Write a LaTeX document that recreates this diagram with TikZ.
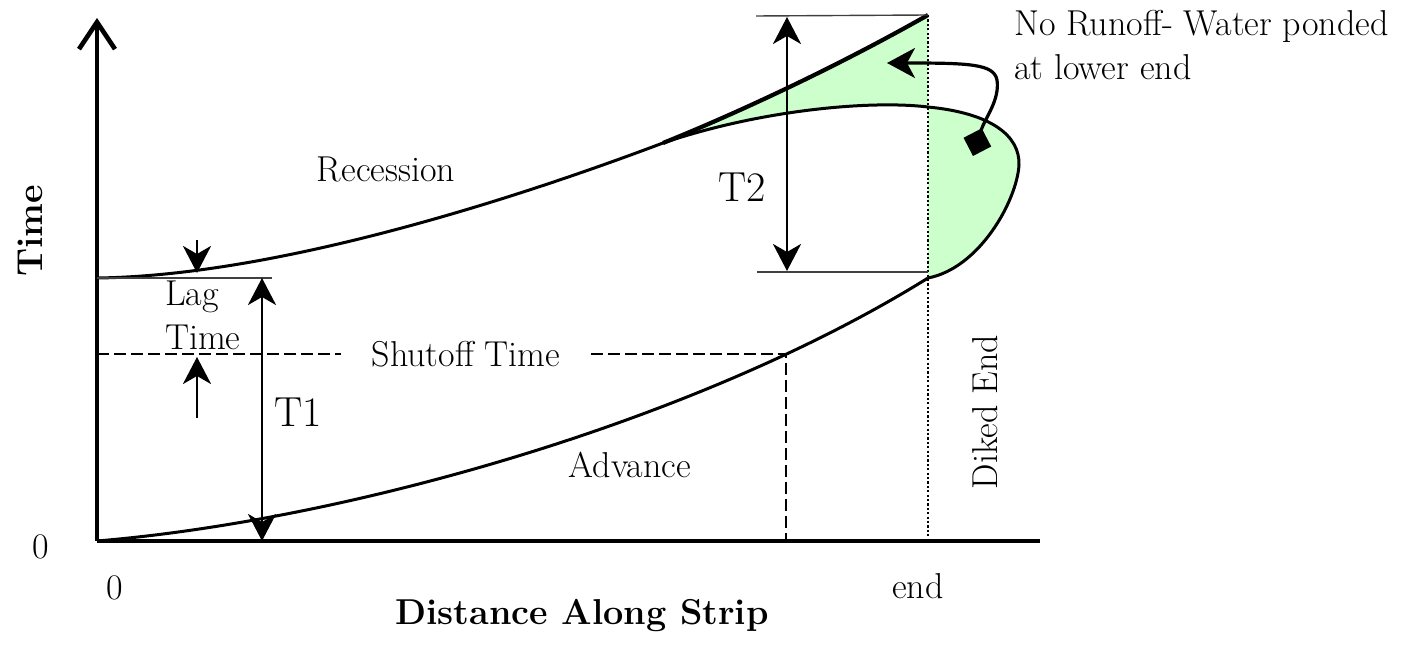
\documentclass[tikz,border=0pt]{standalone}
\usetikzlibrary{arrows.meta}
\definecolor{pondgreen}{RGB}{204,255,204}
\begin{document}
\begin{tikzpicture}[x=0.5pt, y=-0.5pt, >={Stealth[length=13.5pt,width=14pt,inset=4pt]},
    every node/.style={font=\fontsize{18}{22}\selectfont},
    axisline/.style={line width=2.3pt},
    flowline/.style={line width=1.5pt},
    guide/.style={line width=0.7pt, black!75},
    dashline/.style={line width=0.9pt, dash pattern=on 6pt off 2.5pt},
    dotline/.style={line width=1.1pt, dash pattern=on 1.1pt off 1.1pt},
    dimarrow/.style={line width=1.4pt, <->},
    biglabel/.style={font=\fontsize{21}{24}\selectfont},
    axislabel/.style={font=\fontsize{18}{22}\selectfont\bfseries}]
  \useasboundingbox (0,0) rectangle (1410,646);

  % 1. key points
  \coordinate (O) at (97,541);
  \coordinate (ytop) at (97,18);
  \coordinate (xend) at (1040,541);
  \coordinate (recStart) at (97,278);
  \coordinate (split) at (663,143);
  \coordinate (pondTop) at (928,15);
  \coordinate (pondMid) at (928,107);
  \coordinate (advEnd) at (928,278);
  \coordinate (shut) at (786,354);

  % 2. ponded water (green)
  \fill[pondgreen] (split) .. controls (740,112) and (840,65) .. (pondTop) -- (pondMid)
    .. controls (870,100) and (760,110) .. (split) -- cycle;
  \fill[pondgreen] (pondMid) .. controls (990,113) and (1020,135) .. (1019,165)
    .. controls (1017,200) and (980,268) .. (advEnd) -- cycle;

  % 3. axes
  \draw[axisline, -{Straight Barb[length=13.5pt,width=18pt]}] (O) -- (ytop);
  \draw[axisline] (O) -- (xend);

  % 4. advance and recession curves
  \draw[flowline] (O) .. controls (350,520) and (700,420) .. (advEnd);
  \draw[flowline] (recStart) .. controls (260,276) and (480,212) .. (split)
    .. controls (760,110) and (870,100) .. (pondMid)
    .. controls (990,113) and (1020,135) .. (1019,165)
    .. controls (1017,200) and (980,268) .. (advEnd);
  \draw[line width=2.1pt] (split) .. controls (740,112) and (840,65) .. (pondTop);

  % 5. diked end
  \draw[dotline] (pondTop) -- (pondTop |- O);
  \node[rotate=90] (diked) at (985,412) {Diked End};

  % 6. shutoff time
  \node[inner xsep=15pt] (shutlbl) at (466,354) {Shutoff Time};
  \draw[dashline] (O |- shut) -- (shutlbl.west);
  \draw[dashline] (shutlbl.east) -- (shut) -- (shut |- O);

  % 7. lag time
  \coordinate (lagR) at (272,278);
  \coordinate (lagTop) at (197,240);
  \coordinate (lagHit) at (197,273);
  \coordinate (lagLow) at (197,418);
  \coordinate (lagUp) at (197,357);
  \draw[guide] (recStart) -- (lagR);
  \draw[->, line width=1.4pt] (lagTop) -- (lagHit);
  \draw[->, line width=1.4pt] (lagLow) -- (lagUp);
  \node[align=left, anchor=west] (lag) at (158,315) {Lag\\Time};

  % 8. T1 and T2
  \coordinate (t1top) at (262,278);
  \coordinate (t1bot) at (262,541);
  \draw[dimarrow] (t1top) -- (t1bot);
  \node[biglabel] (T1) at (298,412) {T1};
  \coordinate (t2lineA) at (756,16);
  \coordinate (t2lineB) at (757,272);
  \coordinate (t2lineC) at (928,272);
  \draw[guide] (t2lineA) -- (pondTop);
  \draw[guide] (t2lineB) -- (t2lineC);
  \coordinate (t2top) at (787,17);
  \coordinate (t2bot) at (787,271);
  \draw[dimarrow] (t2top) -- (t2bot);
  \node[biglabel] (T2) at (742,187) {T2};

  % 9. note on the ponded water
  \coordinate (noteFrom) at (973,156);
  \coordinate (noteTo) at (887,63);
  \draw[line width=1.6pt, {Diamond[length=14.5pt,width=14.5pt]}-{Stealth[length=14pt,width=15pt,inset=4pt]}]
    (noteFrom) .. controls (985,118) and (1000,100) .. (997,80)
    .. controls (994,64) and (970,63) .. (noteTo);
  \node[align=left, anchor=west] (note) at (1007,45) {No Runoff- Water ponded\\at lower end};

  % 10. labels
  \node (rec) at (386,169) {Recession};
  \node (adv) at (630,465) {Advance};
  \node (zeroY) at (41,547) {0};
  \node (zeroX) at (115,588) {0};
  \node (endlbl) at (918,586) {end};
  \node[axislabel] (xlabel) at (582,616) {Distance Along Strip};
  \node[axislabel, rotate=90] (ylabel) at (30,231) {Time};
\end{tikzpicture}
\end{document}
